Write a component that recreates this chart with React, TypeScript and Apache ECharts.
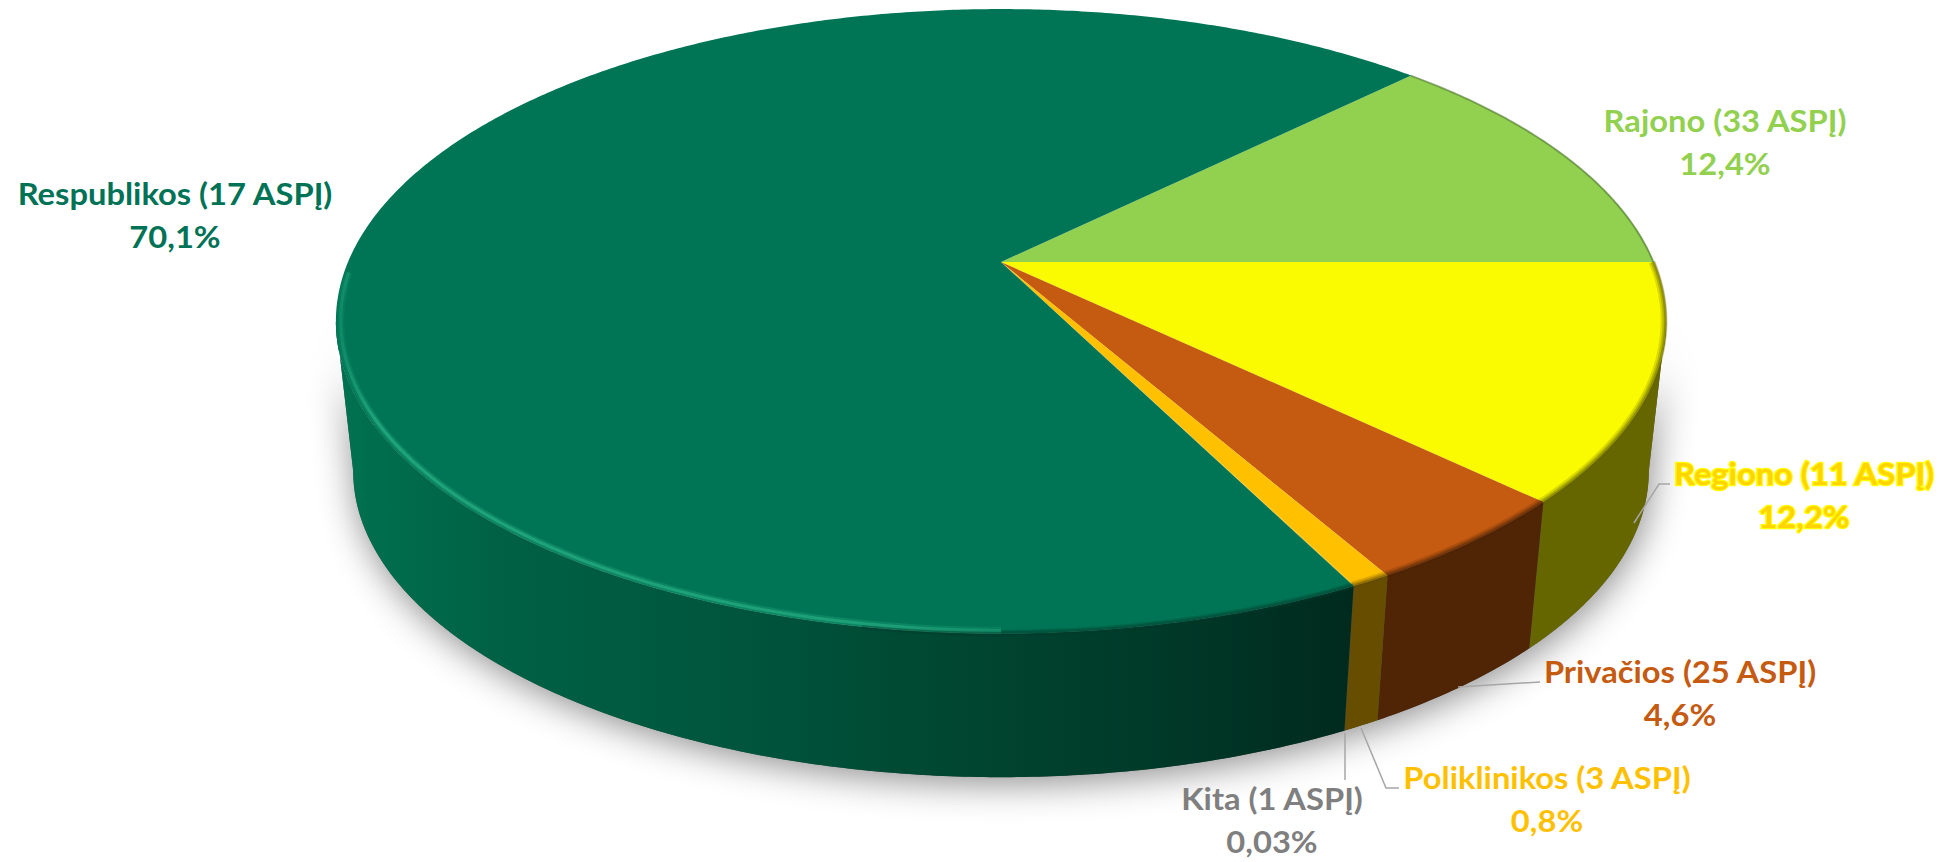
import React, { useEffect, useRef } from "react";
import * as echarts from "echarts";

// ---- data (in drawing order, clockwise from the Rajono / Respublikos edge) ----
const categories = ["Rajono (33 ASPĮ)", "Regiono (11 ASPĮ)", "Privačios (25 ASPĮ)", "Poliklinikos (3 ASPĮ)", "Kita (1 ASPĮ)", "Respublikos (17 ASPĮ)"];
const shares = [12.4, 12.2, 4.6, 0.8, 0.03, 70.1];
const shareLabels = ["12,4%", "12,2%", "4,6%", "0,8%", "0,03%", "70,1%"];

// ---- styles ----
const faceColors = ["#92D050", "#FAFB00", "#C55A11", "#FFC000", "#FFC000", "#007556"];
const wallColors = ["#587D30", "#666600", "#4F2506", "#664D00", "#664D00", "#003A28"];
const labelColors = ["#92D050", "#FFD400", "#C55A11", "#FFC000", "#7F7F7F", "#007256"];
const START_ANGLE = 44.6;
const FONT = "Lato, 'Noto Sans', sans-serif";
const labelAnchors: [number, number][] = [[1725, 142], [1804, 495], [1680, 693], [1547, 799], [1272, 820], [175, 215]];
const LINE_GAP = 21.5;
const leaderLines: number[][][] = [
  [[1634, 523], [1659, 484], [1670, 484]],
  [[1458, 687], [1540, 682]],
  [[1361, 728], [1386, 788], [1399, 788]],
  [[1345, 733], [1345, 780]],
];

const K = 0.19;
const TOP = { cx: 1001, cy: 262, a: 653, b: 301 };
const BOT = { cx: 1001, cy: 413, a: 636, b: 295 };
const WALL_FRONT = -(Math.asin(K) * 180) / Math.PI; // silhouette angle on the right
const WALL_BACK = -180 - WALL_FRONT; // silhouette angle on the left

function project(deg: number, plane: typeof TOP, r = 1): number[] {
  const t = (deg * Math.PI) / 180;
  const X = r * Math.cos(t);
  const Y = r * Math.sin(t);
  const w = 1 + K * Y;
  return [plane.cx + (plane.a * X) / w, plane.cy - (plane.b * Y) / w];
}

function arc(from: number, to: number, plane: typeof TOP, r = 1): number[][] {
  const n = Math.max(2, Math.ceil(Math.abs(to - from) / 0.5));
  const pts: number[][] = [];
  for (let i = 0; i <= n; i++) pts.push(project(from + ((to - from) * i) / n, plane, r));
  return pts;
}

const total = shares.reduce((s, v) => s + v, 0);
function range(value: number, before: number): [number, number] {
  const a = START_ANGLE - (before / total) * 360;
  return [a, a - (value / total) * 360];
}

let acc = 0;
const rows = shares.map((v) => {
  const row = [v, acc];
  acc += v;
  return row;
});

const greenWall = {
  type: "linear", x: 336, y: 0, x2: 1350, y2: 0, global: true,
  colorStops: [
    { offset: 0, color: "#007250" },
    { offset: 0.16, color: "#006144" },
    { offset: 0.4, color: "#00553C" },
    { offset: 0.6, color: "#004731" },
    { offset: 0.8, color: "#003A29" },
    { offset: 1, color: "#002A1E" },
  ],
};
const greenGlow = {
  type: "linear", x: 336, y: 0, x2: 1350, y2: 0, global: true,
  colorStops: [
    { offset: 0, color: "rgba(36,170,126,0.3)" },
    { offset: 0.04, color: "rgba(36,170,126,0.95)" },
    { offset: 0.55, color: "rgba(36,170,126,0.85)" },
    { offset: 0.72, color: "rgba(36,170,126,0.3)" },
    { offset: 0.85, color: "rgba(36,170,126,0)" },
    { offset: 1, color: "rgba(36,170,126,0)" },
  ],
};

function renderBase() {
  const pts = arc(WALL_BACK, WALL_FRONT, BOT).concat(arc(WALL_FRONT, WALL_BACK, TOP));
  return {
    type: "polygon",
    shape: { points: pts },
    style: { fill: "#555555", shadowColor: "rgba(0,0,0,0.45)", shadowBlur: 36, shadowOffsetX: 2, shadowOffsetY: 6 },
    silent: true,
  };
}

function renderWall(params: any, api: any) {
  const i = params.dataIndex;
  const [a0Raw, a1Raw] = range(api.value(0), api.value(1));
  const a0 = Math.min(a0Raw, WALL_FRONT);
  const a1 = Math.max(a1Raw, WALL_BACK);
  if (a1 >= a0) return { type: "group", children: [] };
  const top = arc(a0, a1, TOP);
  const bot = arc(a1, a0, BOT);
  return {
    type: "polygon",
    shape: { points: top.concat(bot) },
    style: { fill: i === 5 ? greenWall : wallColors[i] },
    silent: true,
  };
}

function renderFace(params: any, api: any) {
  const i = params.dataIndex;
  const [a0, a1] = range(api.value(0), api.value(1));
  const pts = [[TOP.cx, TOP.cy], ...arc(a0, a1, TOP)];
  return {
    type: "polygon",
    shape: { points: pts },
    style: { fill: faceColors[i] },
    silent: true,
  };
}

function renderRim(params: any, api: any) {
  const i = params.dataIndex;
  const [a0, a1] = range(api.value(0), api.value(1));
  const from = Math.min(a0, 0);
  const to = Math.max(a1, -178);
  const children: any[] = [];
  if (i === 0) {
    return { type: "group", children: [{ type: "polyline", shape: { points: arc(a0, a1, TOP, 0.999) }, style: { fill: "none", stroke: "rgba(60,90,40,0.45)", lineWidth: 2 } }] };
  }
  const layers = [[7, 0.2, 0.997], [4.5, 0.3, 0.998], [2.5, 0.45, 0.999]];
  for (const [lw, op, r] of layers) {
    children.push({
      type: "polyline",
      shape: { points: arc(from, to, TOP, r) },
      style: { fill: "none", stroke: wallColors[i], lineWidth: lw, opacity: op },
    });
  }
  if (i === 5) {
    children.length = 0;
    const rightPart = arc(from, -100, TOP, 0.999);
    for (const [lw, op] of [[7, 0.25], [4, 0.35]]) {
      children.push({ type: "polyline", shape: { points: rightPart }, style: { fill: "none", stroke: "#003A28", lineWidth: lw, opacity: op } });
    }
    children.push({ type: "polyline", shape: { points: arc(-90, to, TOP, 0.993) }, style: { fill: "none", stroke: greenGlow, lineWidth: 7, opacity: 0.35 } });
    children.push({ type: "polyline", shape: { points: arc(-90, to, TOP, 0.993) }, style: { fill: "none", stroke: greenGlow, lineWidth: 3, opacity: 0.85 } });
  }
  return { type: "group", children };
}

function layer(renderItem: any, z: number) {
  return { type: "custom", coordinateSystem: "none", data: rows, renderItem, z, silent: true, animation: false, clip: false };
}

function labelText(text: string, i: number, y: number) {
  const isYellow = i === 1;
  return {
    type: "text",
    x: labelAnchors[i][0],
    y,
    scaleX: 1.09,
    z: 20,
    style: {
      text,
      fill: labelColors[i],
      font: `bold 30px ${FONT}`,
      align: "center",
      verticalAlign: "middle",
      stroke: isYellow ? "#FFFF00" : undefined,
      lineWidth: isYellow ? 2.5 : 0,
    },
  };
}

export default function App() {
  const ref = useRef<HTMLDivElement>(null);
  useEffect(() => {
    const chart = echarts.init(ref.current!, null, { renderer: "svg" });
    const labels = categories.flatMap((name, i) => [
      labelText(name, i, labelAnchors[i][1] - LINE_GAP),
      labelText(shareLabels[i], i, labelAnchors[i][1] + LINE_GAP),
    ]);
    const leaders = leaderLines.map((points) => ({
      type: "polyline",
      z: 15,
      shape: { points },
      style: { fill: "none", stroke: "#A6A6A6", lineWidth: 1.5 },
    }));
    chart.setOption({
      animation: false,
      backgroundColor: "#FFFFFF",
      series: [
        { ...layer(renderBase, 1), data: [[1, 0]] },
        layer(renderWall, 2),
        layer(renderFace, 3),
        layer(renderRim, 4),
      ],
      graphic: { elements: [...leaders, ...labels] },
    });
    return () => chart.dispose();
  }, []);
  return <div ref={ref} style={{ position: "absolute", left: 0, top: 0, width: 1944, height: 862 }} />;
}
